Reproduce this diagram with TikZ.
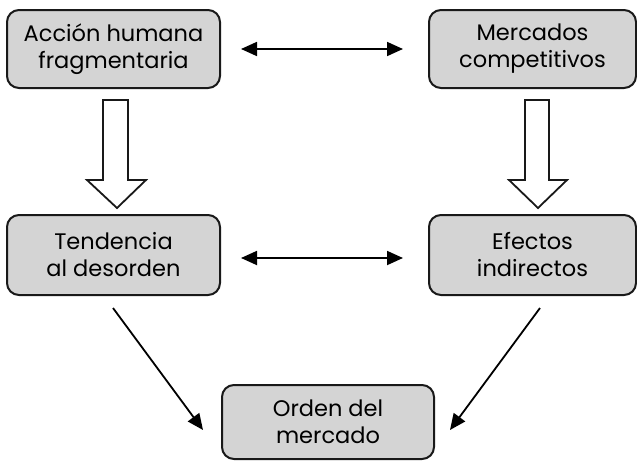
\documentclass[tikz,border=0pt]{standalone}
\usepackage{fontspec}
\setmainfont{Poppins}
\usetikzlibrary{arrows.meta}
\definecolor{boxgray}{HTML}{D4D4D4}
\tikzset{
  box/.style={draw=black!90, line width=2pt, fill=boxgray, rounded corners=12pt,
    align=center, font=\fontsize{22.5}{27}\selectfont, inner sep=0pt},
  link/.style={line width=1.8pt, -{Triangle[length=16pt,width=14pt]}},
  dlink/.style={line width=1.8pt, {Triangle[length=16pt,width=14pt]}-{Triangle[length=16pt,width=14pt]}},
  hollow/.style={draw=black!90, line width=1.8pt, fill=white, line join=miter}
}
\begin{document}
\begin{tikzpicture}[x=1pt,y=-1pt]
\useasboundingbox (0,0) rectangle (637,461);
\node[box, minimum width=213pt, minimum height=78pt] (a) at (113.5,49) {Acción humana\\fragmentaria};
\node[box, minimum width=207pt, minimum height=78pt] (m) at (532.5,49) {Mercados\\competitivos};
\node[box, minimum width=213pt, minimum height=80pt] (t) at (113.5,255) {Tendencia\\al desorden};
\node[box, minimum width=207pt, minimum height=80pt] (e) at (532.5,255) {Efectos\\indirectos};
\node[box, minimum width=212pt, minimum height=74pt] (o) at (328,422) {Orden del\\mercado};
% horizontal double arrows
\draw[dlink] ([xshift=20pt]a.east) -- ([xshift=-25pt]m.west);
\draw[dlink] ([xshift=20pt,yshift=-3pt]t.east) -- ([xshift=-25pt,yshift=-3pt]e.west);
% hollow block arrows
\draw[hollow] (103,100) -- (128,100) -- (128,180) -- (146,180) -- (117,208) -- (87,180) -- (103,180) -- cycle;
\draw[hollow] (525,100) -- (549,100) -- (549,180) -- (567,180) -- (538,208) -- (509,180) -- (525,180) -- cycle;
% diagonal arrows
\coordinate (ls) at (113,308);
\coordinate (le) at (203,430);
\coordinate (rs) at (540,308);
\coordinate (re) at (450,430);
\draw[link] (ls) -- (le);
\draw[link] (rs) -- (re);
\end{tikzpicture}
\end{document}
